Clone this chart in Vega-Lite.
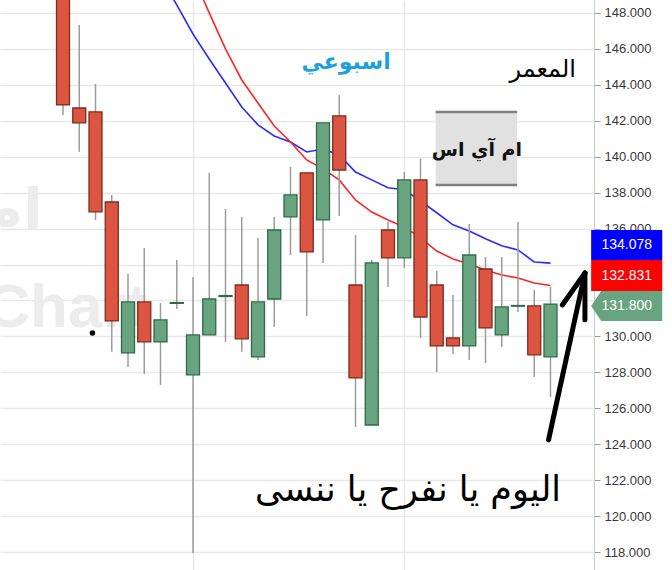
{
  "$schema": "https://vega.github.io/schema/vega-lite/v6.json",
  "width": 594,
  "height": 570,
  "autosize": {"type": "none"},
  "padding": {"left": 0, "top": 0, "right": 78, "bottom": 0},
  "background": "white",
  "config": {
    "view": {"stroke": null},
    "axis": {"labelOverlap": false, "title": null},
    "axisY": {
      "labelOverlap": false, "labelBound": false, "labelFlush": false,
      "gridColor": "#e8e8e8", "gridWidth": 1.5,
      "domainColor": "#cccccc", "domainWidth": 1, "tickColor": "#9a9a9a", "tickSize": 6,
      "labelFont": "Liberation Sans", "labelFontSize": 13, "labelColor": "#3a3a3a", "labelPadding": 4
    }
  },
  "datasets": {
    "candles": [
      {"i": 1, "o": 151.5, "h": 152.0, "l": 142.32, "c": 142.88},
      {"i": 2, "o": 142.71, "h": 147.33, "l": 140.27, "c": 141.88},
      {"i": 3, "o": 142.49, "h": 144.05, "l": 136.48, "c": 136.93},
      {"i": 4, "o": 137.48, "h": 137.87, "l": 129.14, "c": 130.86},
      {"i": 5, "o": 129.08, "h": 133.48, "l": 128.3, "c": 131.92},
      {"i": 6, "o": 131.92, "h": 134.92, "l": 127.91, "c": 129.69},
      {"i": 7, "o": 129.69, "h": 131.86, "l": 127.3, "c": 130.92},
      {"i": 8, "o": 131.84, "h": 134.25, "l": 131.53, "c": 131.88},
      {"i": 9, "o": 127.86, "h": 133.31, "l": 117.95, "c": 130.08},
      {"i": 10, "o": 130.08, "h": 139.1, "l": 130.08, "c": 132.08},
      {"i": 11, "o": 132.22, "h": 137.09, "l": 129.69, "c": 132.27},
      {"i": 12, "o": 132.86, "h": 136.65, "l": 129.14, "c": 129.86},
      {"i": 13, "o": 128.86, "h": 135.48, "l": 128.69, "c": 131.92},
      {"i": 14, "o": 132.08, "h": 136.65, "l": 130.53, "c": 135.92},
      {"i": 15, "o": 136.65, "h": 139.43, "l": 134.53, "c": 137.87},
      {"i": 16, "o": 139.1, "h": 139.1, "l": 131.14, "c": 134.7},
      {"i": 17, "o": 136.48, "h": 141.88, "l": 134.09, "c": 141.88},
      {"i": 18, "o": 142.27, "h": 143.44, "l": 136.7, "c": 139.26},
      {"i": 19, "o": 132.86, "h": 135.65, "l": 124.96, "c": 127.69},
      {"i": 20, "o": 125.07, "h": 134.25, "l": 125.07, "c": 134.09},
      {"i": 21, "o": 135.92, "h": 136.37, "l": 132.75, "c": 134.37},
      {"i": 22, "o": 134.37, "h": 139.15, "l": 133.81, "c": 138.71},
      {"i": 23, "o": 138.71, "h": 139.88, "l": 129.91, "c": 131.08},
      {"i": 24, "o": 132.86, "h": 133.64, "l": 128.02, "c": 129.47},
      {"i": 25, "o": 129.91, "h": 132.31, "l": 129.02, "c": 129.47},
      {"i": 26, "o": 129.47, "h": 136.26, "l": 128.69, "c": 134.53},
      {"i": 27, "o": 133.75, "h": 134.42, "l": 128.52, "c": 130.47},
      {"i": 28, "o": 130.08, "h": 134.42, "l": 129.41, "c": 131.64},
      {"i": 29, "o": 131.68, "h": 136.37, "l": 131.36, "c": 131.72},
      {"i": 30, "o": 131.7, "h": 132.59, "l": 127.74, "c": 128.97},
      {"i": 31, "o": 128.86, "h": 132.75, "l": 126.63, "c": 131.8}
    ],
    "ma": [
      {"i": 7, "s": "MA1", "v": 150.0},
      {"i": 8, "s": "MA1", "v": 148.45},
      {"i": 9, "s": "MA1", "v": 146.83},
      {"i": 10, "s": "MA1", "v": 145.44},
      {"i": 11, "s": "MA1", "v": 144.1},
      {"i": 12, "s": "MA1", "v": 142.77},
      {"i": 13, "s": "MA1", "v": 141.77},
      {"i": 14, "s": "MA1", "v": 141.15},
      {"i": 15, "s": "MA1", "v": 140.82},
      {"i": 16, "s": "MA1", "v": 140.26},
      {"i": 17, "s": "MA1", "v": 140.43},
      {"i": 18, "s": "MA1", "v": 140.1},
      {"i": 19, "s": "MA1", "v": 139.15},
      {"i": 20, "s": "MA1", "v": 138.71},
      {"i": 21, "s": "MA1", "v": 138.27},
      {"i": 22, "s": "MA1", "v": 138.16},
      {"i": 23, "s": "MA1", "v": 137.54},
      {"i": 24, "s": "MA1", "v": 136.88},
      {"i": 25, "s": "MA1", "v": 136.21},
      {"i": 26, "s": "MA1", "v": 135.87},
      {"i": 27, "s": "MA1", "v": 135.43},
      {"i": 28, "s": "MA1", "v": 135.04},
      {"i": 29, "s": "MA1", "v": 134.81},
      {"i": 30, "s": "MA1", "v": 134.14},
      {"i": 31, "s": "MA1", "v": 134.078},
      {"i": 9, "s": "MA2", "v": 150.06},
      {"i": 10, "s": "MA2", "v": 148.0},
      {"i": 11, "s": "MA2", "v": 146.0},
      {"i": 12, "s": "MA2", "v": 144.27},
      {"i": 13, "s": "MA2", "v": 142.99},
      {"i": 14, "s": "MA2", "v": 141.71},
      {"i": 15, "s": "MA2", "v": 140.82},
      {"i": 16, "s": "MA2", "v": 139.82},
      {"i": 17, "s": "MA2", "v": 139.32},
      {"i": 18, "s": "MA2", "v": 138.71},
      {"i": 19, "s": "MA2", "v": 137.59},
      {"i": 20, "s": "MA2", "v": 136.92},
      {"i": 21, "s": "MA2", "v": 136.48},
      {"i": 22, "s": "MA2", "v": 136.09},
      {"i": 23, "s": "MA2", "v": 135.48},
      {"i": 24, "s": "MA2", "v": 134.75},
      {"i": 25, "s": "MA2", "v": 134.31},
      {"i": 26, "s": "MA2", "v": 134.03},
      {"i": 27, "s": "MA2", "v": 133.7},
      {"i": 28, "s": "MA2", "v": 133.42},
      {"i": 29, "s": "MA2", "v": 133.25},
      {"i": 30, "s": "MA2", "v": 132.97},
      {"i": 31, "s": "MA2", "v": 132.831}
    ],
    "arrow": [
      {"x": 30.88, "y": 124.24, "x2": 33.12, "y2": 133.53},
      {"x": 31.73, "y": 131.75, "x2": 33.12, "y2": 133.53},
      {"x": 33.12, "y": 130.92, "x2": 33.12, "y2": 133.53}
    ],
    "one": [{}]
  },
  "layer": [
    {
      "data": {"name": "ma"},
      "mark": {"type": "line", "strokeWidth": 1.6, "clip": true},
      "encoding": {
        "x": {
          "field": "i", "type": "quantitative",
          "scale": {"domain": [-2.57, 33.37], "nice": false, "zero": false},
          "axis": {"values": [9, 22], "grid": true, "gridColor": "#e8e8e8", "gridWidth": 1.5, "labels": false, "ticks": false, "domain": false, "title": null}
        },
        "y": {
          "field": "v", "type": "quantitative",
          "scale": {"domain": [117.0, 148.72], "nice": false, "zero": false},
          "axis": {
            "orient": "right", "title": null, "grid": true, "labelOverlap": false, "tickCount": 16,
            "values": [118, 120, 122, 124, 126, 128, 130, 132, 134, 136, 138, 140, 142, 144, 146, 148],
            "format": ".3f"
          }
        },
        "color": {"field": "s", "type": "nominal", "scale": {"domain": ["MA1", "MA2"], "range": ["#2b2bff", "#ff2424"]}, "legend": null}
      }
    },
    {
      "data": {"name": "one"},
      "mark": {"type": "text", "text": "ام", "font": "DejaVu Sans", "fontSize": 56, "fontWeight": "bold", "color": "#ececec", "align": "right", "baseline": "middle", "clip": true},
      "encoding": {"x": {"datum": -0.27, "type": "quantitative"}, "y": {"datum": 136.93, "type": "quantitative"}}
    },
    {
      "data": {"name": "one"},
      "mark": {"type": "text", "text": "Chart", "font": "Liberation Sans", "fontSize": 62, "fontWeight": "bold", "color": "#ececec", "align": "left", "baseline": "alphabetic", "clip": true},
      "encoding": {"x": {"datum": -3.78, "type": "quantitative"}, "y": {"datum": 130.53, "type": "quantitative"}}
    },
    {
      "data": {"name": "candles"},
      "mark": {"type": "rule", "color": "#9c9c9c", "strokeWidth": 1.5, "clip": true},
      "encoding": {
        "x": {"field": "i", "type": "quantitative"},
        "y": {"field": "l", "type": "quantitative"},
        "y2": {"field": "h"}
      }
    },
    {
      "data": {"name": "candles"},
      "mark": {"type": "bar", "size": 13, "strokeWidth": 1.3, "clip": true},
      "encoding": {
        "x": {"field": "i", "type": "quantitative"},
        "y": {"field": "o", "type": "quantitative"},
        "y2": {"field": "c"},
        "fill": {"condition": {"test": "datum.c >= datum.o", "value": "#68a47f"}, "value": "#db5540"},
        "stroke": {"condition": {"test": "datum.c >= datum.o", "value": "#2f6b46"}, "value": "#7e2b20"}
      }
    },
    {
      "data": {"name": "one"},
      "mark": {"type": "point", "filled": true, "color": "black", "size": 30, "opacity": 1},
      "encoding": {"x": {"datum": 2.81, "type": "quantitative"}, "y": {"datum": 130.19, "type": "quantitative"}}
    },
    {
      "data": {"name": "one"},
      "mark": {"type": "rect", "color": "#e1e1e1"},
      "encoding": {
        "x": {"datum": 23.93, "type": "quantitative"}, "x2": {"datum": 28.95},
        "y": {"datum": 142.49, "type": "quantitative"}, "y2": {"datum": 138.43}
      }
    },
    {
      "data": {"name": "one"},
      "mark": {"type": "rule", "color": "#808080", "strokeWidth": 2.5},
      "encoding": {
        "x": {"datum": 23.93, "type": "quantitative"}, "x2": {"datum": 28.95},
        "y": {"datum": 142.49, "type": "quantitative"}
      }
    },
    {
      "data": {"name": "one"},
      "mark": {"type": "rule", "color": "#808080", "strokeWidth": 2.5},
      "encoding": {
        "x": {"datum": 23.93, "type": "quantitative"}, "x2": {"datum": 28.95},
        "y": {"datum": 138.43, "type": "quantitative"}
      }
    },
    {
      "data": {"name": "one"},
      "mark": {"type": "text", "text": "ام آي اس", "font": "DejaVu Sans", "fontSize": 19, "fontWeight": "bold", "color": "#111111", "align": "center", "baseline": "middle"},
      "encoding": {"x": {"datum": 26.47, "type": "quantitative"}, "y": {"datum": 140.38, "type": "quantitative"}}
    },
    {
      "data": {"name": "one"},
      "mark": {"type": "text", "text": "اسبوعي", "font": "DejaVu Sans", "fontSize": 22, "fontWeight": "bold", "color": "#1f9fe0", "align": "center", "baseline": "middle"},
      "encoding": {"x": {"datum": 18.42, "type": "quantitative"}, "y": {"datum": 145.27, "type": "quantitative"}}
    },
    {
      "data": {"name": "one"},
      "mark": {"type": "text", "text": "المعمر", "font": "DejaVu Sans", "fontSize": 24, "color": "#000000", "align": "center", "baseline": "middle"},
      "encoding": {"x": {"datum": 30.52, "type": "quantitative"}, "y": {"datum": 144.83, "type": "quantitative"}}
    },
    {
      "data": {"name": "one"},
      "mark": {"type": "text", "text": "اليوم يا نفرح يا ننسى", "font": "DejaVu Sans", "fontSize": 35, "color": "#000000", "align": "center", "baseline": "middle"},
      "encoding": {"x": {"datum": 22.23, "type": "quantitative"}, "y": {"datum": 121.46, "type": "quantitative"}}
    },
    {
      "data": {"name": "arrow"},
      "mark": {"type": "rule", "color": "#000000", "strokeWidth": 5, "strokeCap": "round", "clip": false},
      "encoding": {
        "x": {"field": "x", "type": "quantitative"}, "y": {"field": "y", "type": "quantitative"},
        "x2": {"field": "x2"}, "y2": {"field": "y2"}
      }
    },
    {
      "data": {"values": [{"v": 134.078, "label": "134.078"}]},
      "layer": [
        {
          "mark": {"type": "point", "shape": "M -2.37 -1 L 2.37 -1 L 2.37 1 L -2.37 1 Z", "size": 900, "filled": true, "color": "#0000ff", "opacity": 1, "strokeWidth": 0, "yOffset": -18, "clip": false},
          "encoding": {"x": {"datum": 35.69, "type": "quantitative"}, "y": {"field": "v", "type": "quantitative"}}
        },
        {
          "mark": {"type": "text", "font": "Liberation Sans", "fontSize": 14, "color": "#ffffff", "align": "center", "baseline": "middle", "yOffset": -18, "clip": false},
          "encoding": {"x": {"datum": 35.69, "type": "quantitative"}, "y": {"field": "v", "type": "quantitative"}, "text": {"field": "label"}}
        }
      ]
    },
    {
      "data": {"values": [{"v": 132.831, "label": "132.831"}]},
      "layer": [
        {
          "mark": {"type": "point", "shape": "M -2.37 -1.03 L 2.37 -1.03 L 2.37 1.03 L -2.37 1.03 Z", "size": 900, "filled": true, "color": "#ff0000", "opacity": 1, "strokeWidth": 0, "yOffset": -10, "clip": false},
          "encoding": {"x": {"datum": 35.69, "type": "quantitative"}, "y": {"field": "v", "type": "quantitative"}}
        },
        {
          "mark": {"type": "text", "font": "Liberation Sans", "fontSize": 14, "color": "#ffffff", "align": "center", "baseline": "middle", "yOffset": -10, "clip": false},
          "encoding": {"x": {"datum": 35.69, "type": "quantitative"}, "y": {"field": "v", "type": "quantitative"}, "text": {"field": "label"}}
        }
      ]
    },
    {
      "data": {"values": [{"v": 131.8, "label": "131.800"}]},
      "layer": [
        {
          "mark": {"type": "point", "shape": "M -2.37 0 L -1.7 -1 L 2.37 -1 L 2.37 1 L -1.7 1 Z", "size": 900, "filled": true, "color": "#68a47f", "opacity": 1, "strokeWidth": 0, "yOffset": 2, "clip": false},
          "encoding": {"x": {"datum": 35.69, "type": "quantitative"}, "y": {"field": "v", "type": "quantitative"}}
        },
        {
          "mark": {"type": "text", "font": "Liberation Sans", "fontSize": 14, "color": "#ffffff", "align": "center", "baseline": "middle", "yOffset": 2, "clip": false},
          "encoding": {"x": {"datum": 35.69, "type": "quantitative"}, "y": {"field": "v", "type": "quantitative"}, "text": {"field": "label"}}
        }
      ]
    }
  ]
}
